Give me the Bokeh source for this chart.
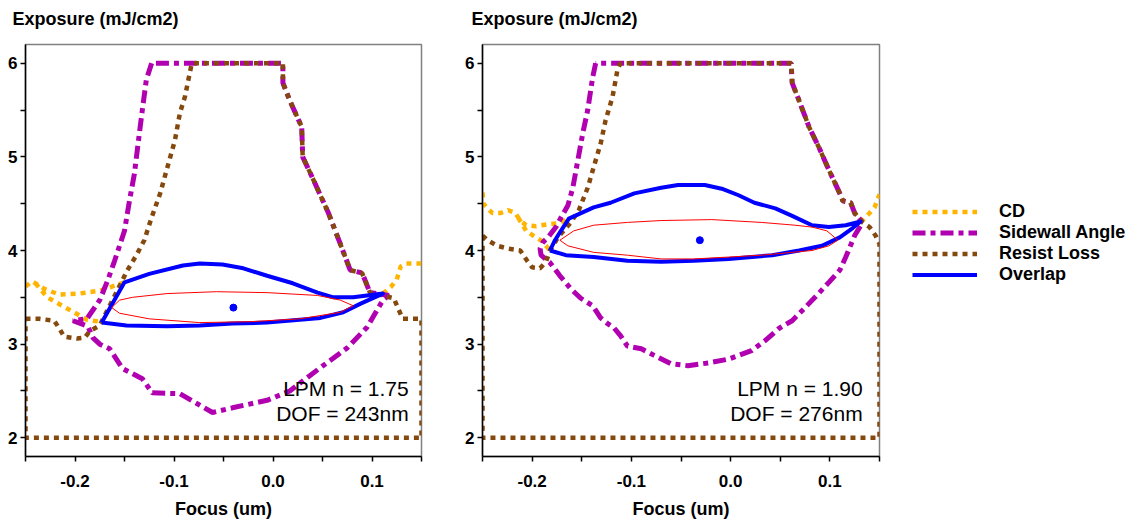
import math
from bokeh.plotting import figure
from bokeh.models import (Range1d, FixedTicker, Label, Legend, LegendItem, NumeralTickFormatter,
                          LinearAxis)
from bokeh.layouts import row
from bokeh.embed import file_html
from bokeh.resources import INLINE

NAN = float("nan")

# ---------------- axes / labels ----------------
x_major = [-0.2, -0.1, 0.0, 0.1]
x_minor = [-0.25, -0.15, -0.05, 0.05, 0.15]
y_major = [2, 3, 4, 5, 6]
y_minor = [2.5, 3.5, 4.5, 5.5]
y_title = "Exposure (mJ/cm2)"
x_title = "Focus (um)"
series_names = ["CD", "Sidewall Angle", "Resist Loss", "Overlap"]
lpm_text = ["LPM n = 1.75", "LPM n = 1.90"]
dof_text = ["DOF = 243nm", "DOF = 276nm"]

# ---------------- left panel (n = 1.75) ----------------
l_cd_x = [-0.25, -0.243, -0.231, -0.216, -0.196, -0.175, -0.150, NAN,
          -0.240, -0.228, -0.213, -0.201, -0.188, -0.175, NAN,
          0.111, 0.119, 0.125, 0.129, 0.134, 0.15]
l_cd_y = [3.615, 3.67, 3.59, 3.53, 3.54, 3.57, 3.66, NAN,
          3.65, 3.50, 3.41, 3.34, 3.26, 3.24, NAN,
          3.54, 3.61, 3.69, 3.83, 3.86, 3.86]

l_swa_x = [-0.1226, -0.128, -0.132, -0.135, -0.140, -0.145, -0.150, -0.160, -0.167, -0.175,
           -0.188, -0.202, -0.187, -0.182, -0.175, -0.165, -0.152, -0.132, -0.122, -0.094,
           -0.061, -0.041, -0.006, 0.017, 0.048, 0.075, 0.095, 0.111, 0.117,
           0.098, 0.090, 0.078, 0.068, 0.056, 0.041, 0.030, 0.029, 0.017, 0.010, 0.010, -0.1226]
l_swa_y = [6.0, 5.82, 5.50, 5.25, 4.82, 4.53, 4.21, 3.89, 3.68, 3.47,
           3.27, 3.25, 3.19, 3.07, 3.0, 2.95, 2.74, 2.63, 2.48, 2.47,
           2.27, 2.32, 2.40, 2.50, 2.75, 2.96, 3.18, 3.47, 3.52,
           3.55, 3.76, 3.79, 4.07, 4.40, 4.75, 5.0, 5.32, 5.60, 5.79, 6.0, 6.0]

l_rl_x = [-0.25, -0.236, -0.221, -0.216, -0.211, -0.198, -0.190, -0.185, -0.175, -0.147,
          -0.138, -0.130, -0.123, -0.114, -0.104, -0.099, -0.094, -0.089, -0.084, -0.082,
          0.010, 0.010, 0.017, 0.029, 0.030, 0.041, 0.056, 0.068, 0.078, 0.090,
          0.098, 0.111, 0.122, 0.131, 0.15, 0.15, -0.25, -0.25]
l_rl_y = [3.27, 3.27, 3.25, 3.17, 3.08, 3.06, 3.07, 3.14, 3.20, 3.79,
          3.95, 4.11, 4.34, 4.61, 4.99, 5.18, 5.47, 5.64, 5.90, 6.0,
          6.0, 5.79, 5.60, 5.32, 5.0, 4.75, 4.40, 4.07, 3.79, 3.76,
          3.55, 3.52, 3.49, 3.27, 3.27, 2.0, 2.0, 3.27]

l_ov_x = [-0.173, -0.150, -0.125, -0.091, -0.074, -0.051, -0.030, -0.006, 0.020, 0.045,
          0.061, 0.081, 0.095, 0.111,
          0.088, 0.071, 0.048, 0.027, -0.006, -0.041, -0.074, -0.107, -0.148, -0.173]
l_ov_y = [3.23, 3.66, 3.75, 3.84, 3.86, 3.85, 3.81, 3.73, 3.65, 3.55,
          3.50, 3.50, 3.52, 3.54,
          3.43, 3.34, 3.28, 3.26, 3.23, 3.22, 3.20, 3.19, 3.20, 3.23]

l_fit_x = [-0.163, -0.155, -0.142, -0.107, -0.057, -0.006, 0.045, 0.068, 0.081,
           0.068, 0.027, -0.023, -0.074, -0.125, -0.155, -0.163]
l_fit_y = [3.39, 3.47, 3.50, 3.54, 3.56, 3.55, 3.52, 3.47, 3.41,
           3.34, 3.27, 3.24, 3.23, 3.27, 3.33, 3.39]

l_center = (-0.040, 3.39)

# ---------------- right panel (n = 1.90) ----------------
r_cd_x = [-0.25, -0.249, -0.245, -0.240, -0.232, -0.224, -0.217, -0.212, -0.206, -0.196,
          -0.184, -0.174, -0.164, NAN,
          -0.214, -0.206, -0.199, -0.190, -0.182, NAN,
          0.131, 0.140, 0.145, 0.15]
r_cd_y = [4.62, 4.50, 4.45, 4.40, 4.40, 4.43, 4.40, 4.32, 4.27, 4.26,
          4.28, 4.29, 4.33, NAN,
          4.35, 4.21, 4.16, 4.10, 4.0, NAN,
          4.30, 4.40, 4.46, 4.60]

r_swa_x = [-0.136, -0.139, -0.144, -0.149, -0.154, -0.159, -0.164, -0.171, -0.176, -0.184,
           -0.189, -0.192, -0.191, -0.182, -0.172, -0.161, -0.151, -0.139, -0.131, -0.124,
           -0.118, -0.111, -0.104, -0.090, -0.077, -0.060, -0.043, -0.022, -0.002, 0.021,
           0.035, 0.049, 0.062, 0.075, 0.085, 0.099, 0.110, 0.116, 0.125, 0.133,
           0.125, 0.121, 0.113, 0.110, 0.099, 0.089, 0.079, 0.069, 0.062, 0.061, -0.136]
r_swa_y = [6.0, 5.85, 5.50, 5.25, 4.96, 4.67, 4.48, 4.35, 4.25, 4.14,
           4.09, 4.02, 3.95, 3.87, 3.73, 3.59, 3.49, 3.41, 3.28, 3.22,
           3.18, 3.09, 2.98, 2.95, 2.88, 2.79, 2.77, 2.80, 2.84, 2.93,
           3.04, 3.17, 3.25, 3.39, 3.50, 3.66, 3.79, 3.93, 4.16, 4.30,
           4.40, 4.51, 4.53, 4.61, 4.86, 5.10, 5.32, 5.60, 5.79, 6.0, 6.0]

r_rl_x = [-0.25, -0.245, -0.235, -0.224, -0.212, -0.205, -0.200, -0.192, -0.186, -0.182,
          -0.174, -0.161, -0.153, -0.144, -0.138, -0.131, -0.126, -0.119, -0.114, -0.111,
          0.061, 0.062, 0.069, 0.079, 0.089, 0.099, 0.110, 0.113, 0.121, 0.125,
          0.133, 0.140, 0.146, 0.15, 0.15, -0.25, -0.25]
r_rl_y = [4.16, 4.11, 4.05, 4.02, 4.0, 3.89, 3.82, 3.81, 3.88, 4.0,
          4.14, 4.30, 4.43, 4.67, 4.89, 5.14, 5.39, 5.64, 5.93, 6.0,
          6.0, 5.79, 5.60, 5.32, 5.10, 4.86, 4.61, 4.53, 4.51, 4.40,
          4.30, 4.25, 4.16, 4.07, 2.0, 2.0, 4.16]

r_ov_x = [-0.182, -0.177, -0.171, -0.163, -0.138, -0.121, -0.097, -0.070, -0.053, -0.026,
          -0.009, 0.008, 0.024, 0.045, 0.062, 0.082, 0.099, 0.116, 0.131,
          0.123, 0.110, 0.092, 0.069, 0.042, -0.002, -0.037, -0.070, -0.104, -0.138, -0.166, -0.182]
r_ov_y = [4.0, 4.11, 4.21, 4.34, 4.46, 4.51, 4.61, 4.67, 4.70, 4.70,
          4.66, 4.59, 4.51, 4.45, 4.37, 4.27, 4.25, 4.27, 4.31,
          4.24, 4.14, 4.05, 4.0, 3.95, 3.91, 3.89, 3.88, 3.89, 3.93, 3.95, 4.0]

r_fit_x = [-0.172, -0.158, -0.138, -0.104, -0.070, -0.019, 0.031, 0.065, 0.082, 0.097, 0.108,
           0.099, 0.082, 0.062, 0.031, -0.002, -0.037, -0.070, -0.104, -0.138, -0.164, -0.172]
r_fit_y = [4.11, 4.21, 4.27, 4.30, 4.32, 4.33, 4.30, 4.27, 4.25, 4.21, 4.11,
           4.05, 4.0, 3.98, 3.95, 3.93, 3.91, 3.91, 3.95, 3.98, 4.05, 4.11]

r_center = (-0.031, 4.11)

# ---------------- styles ----------------
CD_COLOR = "#FFB400"
SWA_COLOR = "#B000B0"
RL_COLOR = "#85490E"
OV_COLOR = "#0000FF"
FIT_COLOR = "#FF0000"
FONT = "Liberation Sans"

CD_STYLE = dict(line_color=CD_COLOR, line_width=4.5, line_dash="5 5")
SWA_STYLE = dict(line_color=SWA_COLOR, line_width=5, line_dash="13 5 5 5")
RL_STYLE = dict(line_color=RL_COLOR, line_width=4.5, line_dash="5 5")
OV_STYLE = dict(line_color=OV_COLOR, line_width=4, line_join="round")


def make_panel(width, left, right, cd, swa, rl, ov, fit, center, lpm, dof, text_x, title_dx):
    p = figure(width=width, height=522, output_backend="svg", toolbar_location=None,
               x_range=Range1d(-0.25, 0.15), y_range=Range1d(1.8, 6.2),
               min_border_left=left, min_border_right=right,
               min_border_top=44, min_border_bottom=66)
    p.grid.visible = False
    p.outline_line_color = "#808080"
    p.outline_line_width = 1.5
    p.background_fill_color = "white"
    p.border_fill_color = "white"

    xa = p.below[0]
    ya = p.left[0]

    # invisible spacer axis between the frame and the title (one hidden tick, empty label)
    spacer = LinearAxis(ticker=FixedTicker(ticks=[0], minor_ticks=[]), axis_line_color=None,
                        major_tick_line_color=None, minor_tick_line_color=None,
                        major_tick_in=0, major_tick_out=16, minor_tick_in=0, minor_tick_out=0,
                        major_label_standoff=0, major_label_overrides={0: ""},
                        major_label_text_alpha=0, major_label_text_font_size="1px")
    p.add_layout(spacer, "above")

    p.title.text = y_title
    p.title.align = "left"
    p.title.offset = title_dx
    p.title.vertical_align = "bottom"
    p.title.standoff = 0
    p.title.text_font = FONT
    p.title.text_font_style = "bold"
    p.title.text_font_size = "18px"
    p.title.text_color = "black"

    xa.ticker = FixedTicker(ticks=x_major, minor_ticks=x_minor)
    ya.ticker = FixedTicker(ticks=y_major, minor_ticks=y_minor)
    xa.formatter = NumeralTickFormatter(format="0.0")
    ya.formatter = NumeralTickFormatter(format="0")
    for ax in (xa, ya):
        ax.axis_line_color = "black"
        ax.axis_line_width = 1.5
        ax.major_tick_line_color = "black"
        ax.minor_tick_line_color = "black"
        ax.major_tick_line_width = 1.5
        ax.minor_tick_line_width = 1.5
        ax.major_tick_in = 0
        ax.major_tick_out = 5
        ax.minor_tick_in = 0
        ax.minor_tick_out = 5
        ax.major_label_text_font = FONT
        ax.major_label_text_font_style = "bold"
        ax.major_label_text_font_size = "17px"
        ax.major_label_text_color = "black"
    xa.major_label_standoff = 13
    ya.major_label_standoff = 3
    xa.axis_label = x_title
    xa.axis_label_standoff = 9
    xa.axis_label_text_font = FONT
    xa.axis_label_text_font_style = "bold"
    xa.axis_label_text_font_size = "18px"
    xa.axis_label_text_color = "black"

    p.line(cd[0], cd[1], **CD_STYLE)
    p.line(swa[0], swa[1], **SWA_STYLE)
    p.line(rl[0], rl[1], **RL_STYLE)
    p.line(ov[0], ov[1], **OV_STYLE)
    p.line(fit[0], fit[1], line_color=FIT_COLOR, line_width=1)
    p.scatter([center[0]], [center[1]], size=7, color=OV_COLOR)

    p.add_layout(Label(x=text_x, y=2.526, text=lpm, text_align="right", text_baseline="middle",
                       text_font=FONT, text_font_size="21px", text_color="black"))
    p.add_layout(Label(x=text_x, y=2.259, text=dof, text_align="right", text_baseline="middle",
                       text_font=FONT, text_font_size="21px", text_color="black"))
    return p


p1 = make_panel(460, 25, 39, (l_cd_x, l_cd_y), (l_swa_x, l_swa_y), (l_rl_x, l_rl_y),
                (l_ov_x, l_ov_y), (l_fit_x, l_fit_y), l_center, lpm_text[0], dof_text[0],
                0.137, -13)
p2 = make_panel(439, 22, 20, (r_cd_x, r_cd_y), (r_swa_x, r_swa_y), (r_rl_x, r_rl_y),
                (r_ov_x, r_ov_y), (r_fit_x, r_fit_y), r_center, lpm_text[1], dof_text[1],
                0.133, -11)

# ---------------- legend panel (legend proxies use the right-panel series, kept off-range) ----
p3 = figure(width=240, height=522, output_backend="svg", toolbar_location=None,
            x_axis_type=None, y_axis_type=None, x_range=Range1d(10, 11), y_range=Range1d(10, 11),
            min_border=0)
p3.grid.visible = False
p3.outline_line_color = None
proxies = [(r_cd_x, r_cd_y, CD_STYLE), (r_swa_x, r_swa_y, SWA_STYLE),
           (r_rl_x, r_rl_y, RL_STYLE), (r_ov_x, r_ov_y, OV_STYLE)]
items = []
for name, (xs, ys, st) in zip(series_names, proxies):
    r = p3.line(xs, ys, **st)
    items.append(LegendItem(label=name, renderers=[r]))
legend = Legend(items=items, location=(13, 171.5), padding=0, spacing=0, margin=0,
                glyph_width=65, glyph_height=21, label_height=21, label_standoff=22,
                border_line_alpha=0, background_fill_alpha=0,
                label_text_font=FONT, label_text_font_style="bold",
                label_text_font_size="18px", label_text_color="black")
p3.add_layout(legend, "center")

layout = row(p1, p2, p3)
open("out.html", "w").write(file_html(layout, INLINE))
